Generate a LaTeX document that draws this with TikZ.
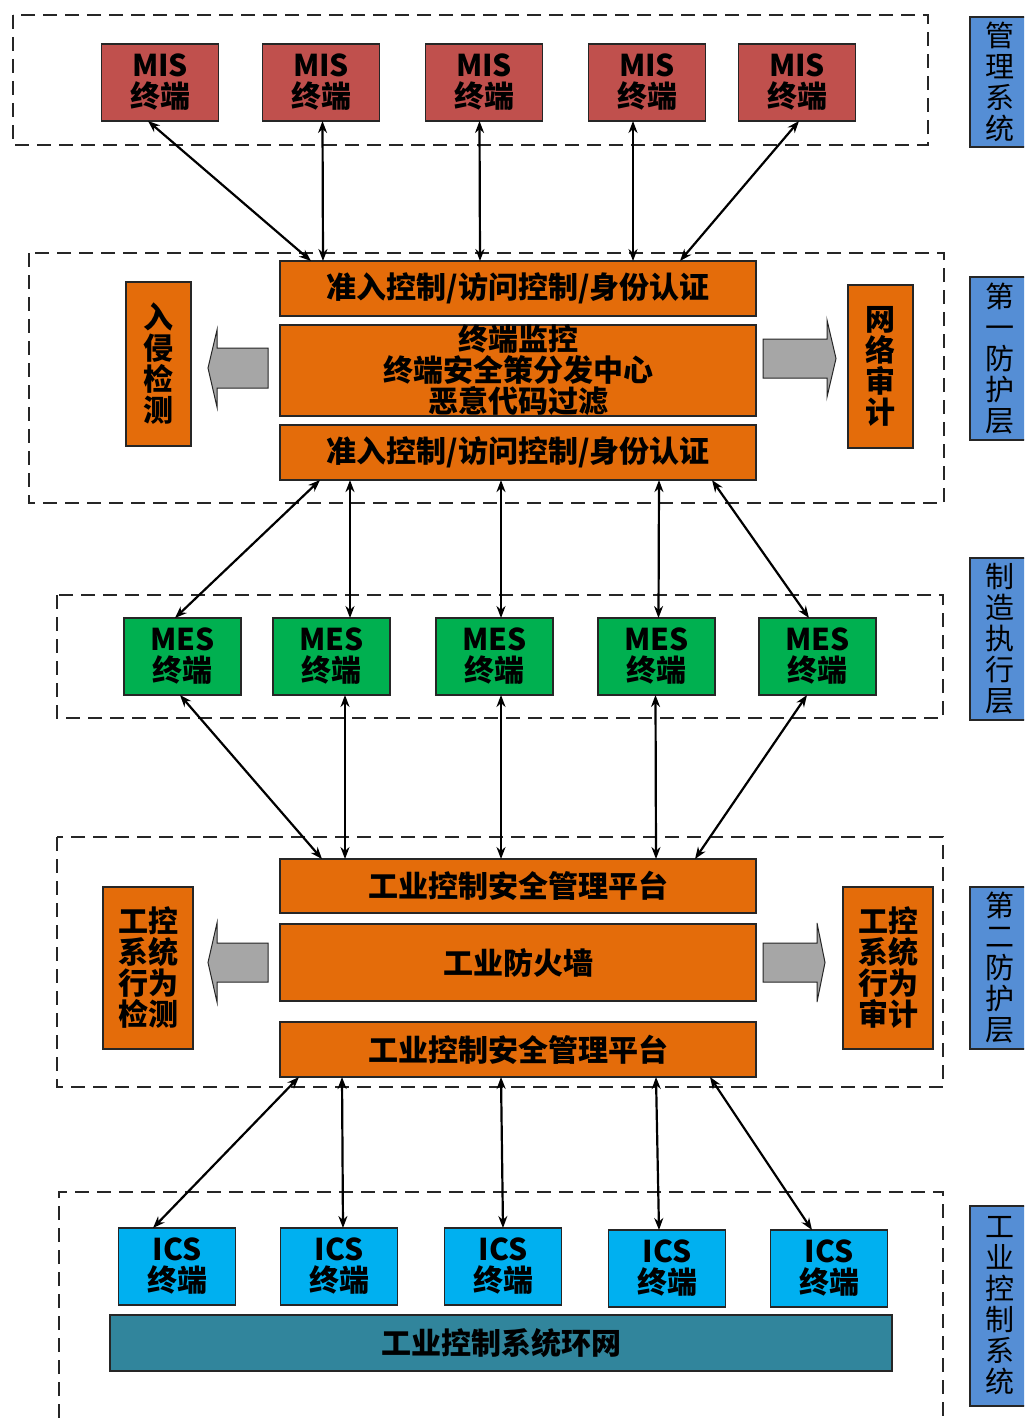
\documentclass[tikz,border=0pt]{standalone}
\usepackage{fontspec}
\setmainfont{Noto Sans CJK SC}
\usetikzlibrary{arrows.meta,positioning}
\definecolor{misred}{HTML}{C0504D}
\definecolor{secorange}{HTML}{E46C0A}
\definecolor{mesgreen}{HTML}{00B050}
\definecolor{icscyan}{HTML}{00B0F0}
\definecolor{ringteal}{HTML}{31859C}
\definecolor{layerblue}{HTML}{558ED5}
\definecolor{pipegray}{HTML}{A6A6A6}
\definecolor{edgegray}{HTML}{262626}

\begin{document}
\begin{tikzpicture}[x=0.5pt,y=-0.5pt,
  font=\bfseries\fontsize{15}{15.5}\selectfont,
  box/.style={draw=edgegray,line width=0.6pt,align=center,inner sep=0pt,outer sep=0pt},
  term/.style={box,minimum width=58.5pt,minimum height=38.5pt},
  mis/.style={term,fill=misred},
  mes/.style={term,fill=mesgreen},
  ics/.style={term,fill=icscyan},
  bar/.style={box,fill=secorange,minimum width=238pt},
  side/.style={box,fill=secorange},
  layer/.style={box,fill=layerblue,minimum width=30pt,font=\mdseries\fontsize{14.5}{15.5}\selectfont},
  frame/.style={draw=edgegray,line width=1.2pt,dash pattern=on 7pt off 4pt},
  pipe/.style={draw=edgegray,line width=0.5pt,fill=pipegray},
  a/.style={{Stealth[length=6pt,width=4.5pt]}-{Stealth[length=6pt,width=4.5pt]},line width=1.1pt}]
\path[use as bounding box,clip] (0,0) rectangle (1024,1418);

% dashed zones
\draw[frame] (13,15) rectangle (928,145);
\draw[frame] (29,253) rectangle (944,503);
\draw[frame] (57,595) rectangle (943,718);
\draw[frame] (57,837) rectangle (943,1087);
\draw[frame] (59,1440) -- (59,1192) -- (943,1192) -- (943,1440);

% MIS terminals
\node[mis] (mis1) at (160,82.5) {MIS\\终端};
\node[mis,right=22pt of mis1] (mis2) {MIS\\终端};
\node[mis,right=23pt of mis2] (mis3) {MIS\\终端};
\node[mis,right=23pt of mis3] (mis4) {MIS\\终端};
\node[mis,right=16.5pt of mis4] (mis5) {MIS\\终端};

% first protection layer
\node[bar,minimum height=27.5pt] (acc1) at (518,288.5) {准入控制/访问控制/身份认证};
\node[bar,minimum height=45.5pt,below=4.5pt of acc1] (mon) {终端监控\\终端安全策分发中心\\恶意代码过滤};
\node[bar,minimum height=27.5pt,below=4.5pt of mon] (acc2) {准入控制/访问控制/身份认证};
\node[side,minimum width=32.5pt,minimum height=82pt] (ids) at (158.5,364) {入\\侵\\检\\测};
\node[side,minimum width=32.5pt,minimum height=81.5pt] (audit) at (880.5,366.5) {网\\络\\审\\计};
\draw[pipe] (268,348) -- (217,348) -- (217,330) -- (208,368) -- (217,407) -- (217,388) -- (268,388) -- cycle;
\draw[pipe] (763,339) -- (827,339) -- (827,320) -- (836,358.5) -- (827,397) -- (827,378) -- (763,378) -- cycle;

% MES terminals
\node[mes] (mes1) at (182.5,656.5) {MES\\终端};
\node[mes,right=16pt of mes1] (mes2) {MES\\终端};
\node[mes,right=23pt of mes2] (mes3) {MES\\终端};
\node[mes,right=22.5pt of mes3] (mes4) {MES\\终端};
\node[mes,right=22pt of mes4] (mes5) {MES\\终端};

% second protection layer
\node[bar,minimum height=27pt] (plat1) at (518,886) {工业控制安全管理平台};
\node[bar,minimum height=38.5pt,below=5.5pt of plat1] (fw) {工业防火墙};
\node[bar,minimum height=27.5pt,below=10.5pt of fw] (plat2) {工业控制安全管理平台};
\node[side,minimum width=45pt,minimum height=81pt] (beh) at (148,968) {工控\\系统\\行为\\检测};
\node[side,minimum width=45pt,minimum height=81pt] (baud) at (888,968) {工控\\系统\\行为\\审计};
\draw[pipe] (268,943) -- (217,943) -- (217,923) -- (208,962.5) -- (217,1002) -- (217,982) -- (268,982) -- cycle;
\draw[pipe] (763,943) -- (817,943) -- (817,923) -- (825,962.5) -- (817,1002) -- (817,982) -- (763,982) -- cycle;

% ICS terminals and ring network
\node[ics] (ics1) at (177,1266.5) {ICS\\终端};
\node[ics,right=22.5pt of ics1] (ics2) {ICS\\终端};
\node[ics,right=23.5pt of ics2] (ics3) {ICS\\终端};
\node[ics,right=23.5pt of ics3,yshift=-1pt] (ics4) {ICS\\终端};
\node[ics,right=22.5pt of ics4] (ics5) {ICS\\终端};
\node[box,fill=ringteal,minimum width=391pt,minimum height=28pt] (ring) at (501,1343) {工业控制系统环网};

% layer labels
\node[layer,minimum height=65pt] (lbl1) at (1000,82) {管\\理\\系\\统};
\node[layer,minimum height=81.5pt] (lbl2) at (1000,358.5) {第\\一\\防\\护\\层};
\node[layer,minimum height=81pt] (lbl3) at (1000,639) {制\\造\\执\\行\\层};
\node[layer,minimum height=81pt] (lbl4) at (1000,968) {第\\二\\防\\护\\层};
\node[layer,minimum height=100pt] (lbl5) at (1000,1306) {工\\业\\控\\制\\系\\统};

% links
\draw[a] ([shift={(-12,0)}]mis1.south) -- ([shift={(31,0)}]acc1.north west);
\foreach \m/\dm/\db in {mis2/1.5/-195,mis3/-4.5/-38,mis4/-14/115}
  \draw[a] ([shift={(\dm,0)}]\m.south) -- ([shift={(\db,0)}]acc1.north);
\draw[a] ([shift={(2,0)}]mis5.south) -- ([shift={(-76,0)}]acc1.north east);

\draw[a] ([shift={(40,0)}]acc2.south west) -- ([shift={(-7.5,0)}]mes1.north);
\foreach \m/\dm/\db in {mes2/18.5/-168,mes3/6.5/-17,mes4/2/141}
  \draw[a] ([shift={(\db,0)}]acc2.south) -- ([shift={(\dm,0)}]\m.north);
\draw[a] ([shift={(-44,0)}]acc2.south east) -- ([shift={(-8.5,0)}]mes5.north);

\draw[a] ([shift={(-2.5,0)}]mes1.south) -- ([shift={(42,0)}]plat1.north west);
\foreach \m/\dm/\db in {mes2/13.5/-173,mes3/6.5/-17,mes4/-1/138}
  \draw[a] ([shift={(\dm,0)}]\m.south) -- ([shift={(\db,0)}]plat1.north);
\draw[a] ([shift={(-10.5,0)}]mes5.south) -- ([shift={(-61,0)}]plat1.north east);

\draw[a] ([shift={(19,0)}]plat2.south west) -- ([shift={(-24,0)}]ics1.north);
\foreach \m/\dm/\db in {ics2/4/-176,ics3/0/-17,ics4/-8/138}
  \draw[a] ([shift={(\db,0)}]plat2.south) -- ([shift={(\dm,0)}]\m.north);
\draw[a] ([shift={(-46,0)}]plat2.south east) -- ([shift={(-17,0)}]ics5.north);
\end{tikzpicture}
\end{document}
